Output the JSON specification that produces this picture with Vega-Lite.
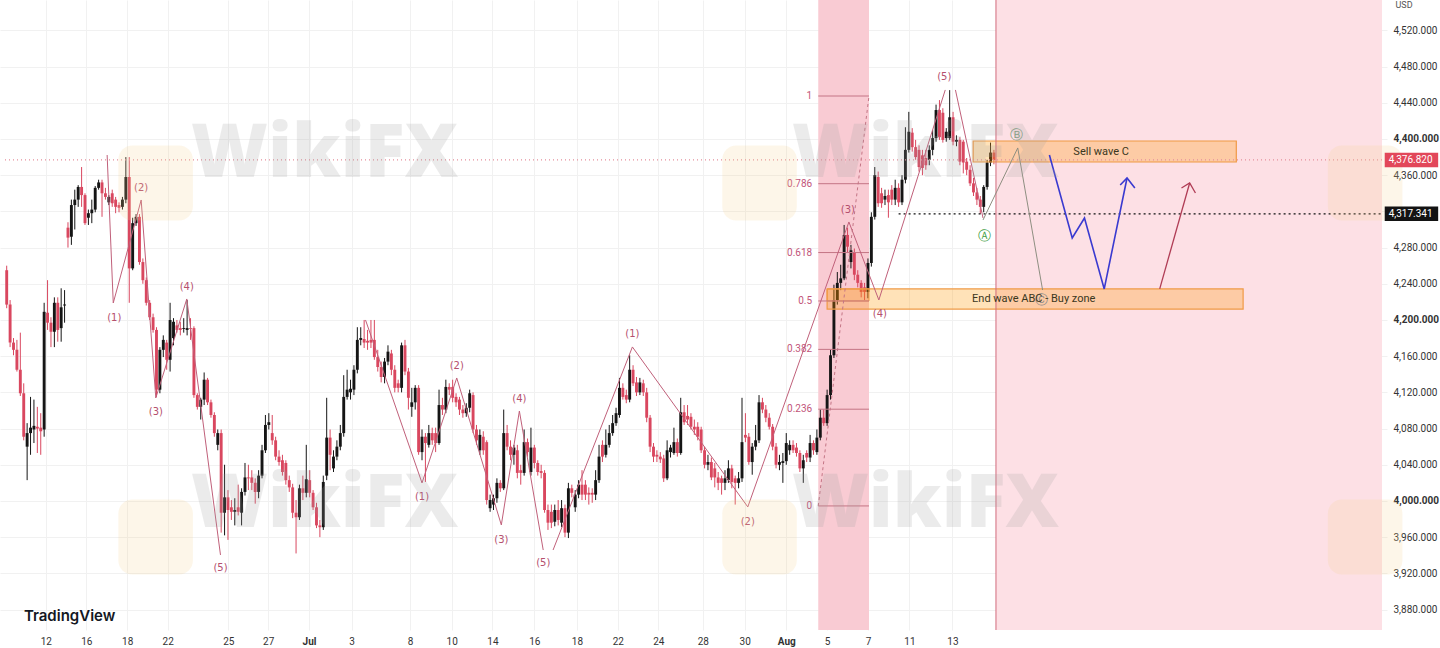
{
"$schema":"https://vega.github.io/schema/vega-lite/v6.json",
"width":1387,"height":630,"autosize":"none",
"padding":{"left":0,"top":0,"right":53,"bottom":18},
"background":"#ffffff",
"config":{"view":{"stroke":null},"font":"Roboto"},
"resolve":{"axis":{"x":"independent","y":"independent"}},
"datasets":{
"candles":[
{"i":0,"o":4255,"h":4260,"l":4213,"c":4217},{"i":1,"o":4217,"h":4222,"l":4170,"c":4175},{"i":2,"o":4175,"h":4180,"l":4161,"c":4167},{"i":3,"o":4167,"h":4178,"l":4143,"c":4145},{"i":4,"o":4145,"h":4186,"l":4116,"c":4119},{"i":5,"o":4119,"h":4130,"l":4067,"c":4071},{"i":6,"o":4060,"h":4086,"l":4023,"c":4075},{"i":7,"o":4075,"h":4115,"l":4051,"c":4081},{"i":8,"o":4079,"h":4112,"l":4064,"c":4083},{"i":9,"o":4082,"h":4104,"l":4053,"c":4080},
{"i":10,"o":4081,"h":4097,"l":4051,"c":4077},{"i":11,"o":4079,"h":4219,"l":4071,"c":4209},{"i":12,"o":4208,"h":4244,"l":4189,"c":4197},{"i":13,"o":4197,"h":4203,"l":4170,"c":4187},{"i":14,"o":4187,"h":4225,"l":4170,"c":4219},{"i":15,"o":4219,"h":4225,"l":4176,"c":4189},{"i":16,"o":4191,"h":4235,"l":4176,"c":4214},{"i":17,"o":4216,"h":4233,"l":4197,"c":4217},{"i":18,"o":4302,"h":4308,"l":4280,"c":4291},{"i":19,"o":4292,"h":4333,"l":4283,"c":4327},
{"i":20,"o":4327,"h":4344,"l":4300,"c":4333},{"i":21,"o":4333,"h":4349,"l":4325,"c":4347},{"i":22,"o":4347,"h":4369,"l":4325,"c":4338},{"i":23,"o":4338,"h":4340,"l":4305,"c":4307},{"i":24,"o":4313,"h":4322,"l":4305,"c":4318},{"i":25,"o":4318,"h":4333,"l":4307,"c":4322},{"i":26,"o":4322,"h":4348,"l":4319,"c":4346},{"i":27,"o":4346,"h":4355,"l":4344,"c":4352},{"i":28,"o":4352,"h":4355,"l":4314,"c":4340},{"i":29,"o":4340,"h":4346,"l":4333,"c":4336},
{"i":30,"o":4330,"h":4338,"l":4327,"c":4336},{"i":31,"o":4340,"h":4344,"l":4325,"c":4329},{"i":32,"o":4333,"h":4336,"l":4318,"c":4325},{"i":33,"o":4327,"h":4330,"l":4319,"c":4324},{"i":34,"o":4325,"h":4336,"l":4322,"c":4333},{"i":35,"o":4333,"h":4380,"l":4329,"c":4358},{"i":36,"o":4358,"h":4380,"l":4219,"c":4257},{"i":37,"o":4257,"h":4313,"l":4255,"c":4307},{"i":38,"o":4307,"h":4317,"l":4304,"c":4314},{"i":39,"o":4314,"h":4317,"l":4261,"c":4264},
{"i":40,"o":4264,"h":4268,"l":4240,"c":4244},{"i":41,"o":4244,"h":4247,"l":4216,"c":4219},{"i":42,"o":4219,"h":4222,"l":4200,"c":4203},{"i":43,"o":4203,"h":4207,"l":4186,"c":4189},{"i":44,"o":4189,"h":4192,"l":4115,"c":4123},{"i":45,"o":4123,"h":4170,"l":4119,"c":4167},{"i":46,"o":4167,"h":4183,"l":4159,"c":4178},{"i":47,"o":4175,"h":4178,"l":4145,"c":4156},{"i":48,"o":4156,"h":4219,"l":4143,"c":4200},{"i":49,"o":4180,"h":4202,"l":4172,"c":4198},
{"i":50,"o":4194,"h":4200,"l":4186,"c":4189},{"i":51,"o":4191,"h":4198,"l":4183,"c":4189},{"i":52,"o":4190,"h":4202,"l":4186,"c":4191},{"i":53,"o":4189,"h":4222,"l":4183,"c":4191},{"i":54,"o":4191,"h":4202,"l":4178,"c":4190},{"i":55,"o":4191,"h":4193,"l":4114,"c":4117},{"i":56,"o":4117,"h":4119,"l":4101,"c":4104},{"i":57,"o":4104,"h":4114,"l":4090,"c":4112},{"i":58,"o":4112,"h":4142,"l":4106,"c":4134},{"i":59,"o":4134,"h":4136,"l":4106,"c":4109},
{"i":60,"o":4109,"h":4112,"l":4092,"c":4095},{"i":61,"o":4095,"h":4098,"l":4071,"c":4075},{"i":62,"o":4062,"h":4079,"l":4056,"c":4075},{"i":63,"o":4075,"h":4079,"l":3965,"c":3987},{"i":64,"o":3987,"h":4040,"l":3962,"c":4004},{"i":65,"o":4004,"h":4012,"l":3957,"c":3990},{"i":66,"o":3993,"h":4001,"l":3979,"c":3988},{"i":67,"o":3988,"h":4003,"l":3973,"c":3990},{"i":68,"o":3993,"h":4018,"l":3984,"c":3988},{"i":69,"o":3987,"h":4014,"l":3973,"c":4010},
{"i":70,"o":4010,"h":4042,"l":4006,"c":4026},{"i":71,"o":4026,"h":4040,"l":4012,"c":4025},{"i":72,"o":4026,"h":4034,"l":4012,"c":4020},{"i":73,"o":4020,"h":4025,"l":3997,"c":4010},{"i":74,"o":4010,"h":4034,"l":4003,"c":4028},{"i":75,"o":4028,"h":4062,"l":4025,"c":4056},{"i":76,"o":4056,"h":4095,"l":4053,"c":4084},{"i":77,"o":4084,"h":4097,"l":4079,"c":4087},{"i":78,"o":4075,"h":4095,"l":4062,"c":4067},{"i":79,"o":4067,"h":4071,"l":4045,"c":4049},
{"i":80,"o":4049,"h":4056,"l":4039,"c":4043},{"i":81,"o":4045,"h":4051,"l":4028,"c":4032},{"i":82,"o":4042,"h":4045,"l":4018,"c":4023},{"i":83,"o":4023,"h":4028,"l":4010,"c":4015},{"i":84,"o":4015,"h":4019,"l":3981,"c":3987},{"i":85,"o":3987,"h":4001,"l":3942,"c":3982},{"i":86,"o":3982,"h":4018,"l":3979,"c":4014},{"i":87,"o":4014,"h":4028,"l":4001,"c":4009},{"i":88,"o":4009,"h":4062,"l":4004,"c":4024},{"i":89,"o":4023,"h":4034,"l":4004,"c":4009},
{"i":90,"o":4009,"h":4012,"l":3990,"c":3993},{"i":91,"o":3993,"h":3998,"l":3970,"c":3973},{"i":92,"o":3973,"h":3979,"l":3960,"c":3971},{"i":93,"o":3971,"h":4028,"l":3968,"c":4021},{"i":94,"o":4028,"h":4114,"l":4023,"c":4070},{"i":95,"o":4070,"h":4079,"l":4034,"c":4051},{"i":96,"o":4036,"h":4056,"l":4032,"c":4049},{"i":97,"o":4049,"h":4067,"l":4045,"c":4060},{"i":98,"o":4060,"h":4084,"l":4056,"c":4075},{"i":99,"o":4075,"h":4139,"l":4071,"c":4115},
{"i":100,"o":4115,"h":4145,"l":4112,"c":4123},{"i":101,"o":4120,"h":4134,"l":4112,"c":4124},{"i":102,"o":4123,"h":4150,"l":4117,"c":4145},{"i":103,"o":4145,"h":4192,"l":4141,"c":4178},{"i":104,"o":4178,"h":4192,"l":4172,"c":4180},{"i":105,"o":4179,"h":4200,"l":4169,"c":4175},{"i":106,"o":4177,"h":4189,"l":4167,"c":4175},{"i":107,"o":4178,"h":4200,"l":4169,"c":4175},{"i":108,"o":4178,"h":4200,"l":4156,"c":4159},{"i":109,"o":4159,"h":4167,"l":4143,"c":4148},
{"i":110,"o":4148,"h":4154,"l":4131,"c":4137},{"i":111,"o":4137,"h":4158,"l":4130,"c":4154},{"i":112,"o":4154,"h":4172,"l":4150,"c":4165},{"i":113,"o":4163,"h":4167,"l":4139,"c":4145},{"i":114,"o":4145,"h":4150,"l":4120,"c":4125},{"i":115,"o":4130,"h":4134,"l":4120,"c":4125},{"i":116,"o":4125,"h":4175,"l":4120,"c":4172},{"i":117,"o":4172,"h":4178,"l":4139,"c":4143},{"i":118,"o":4143,"h":4147,"l":4101,"c":4114},{"i":119,"o":4104,"h":4125,"l":4093,"c":4109},
{"i":120,"o":4109,"h":4128,"l":4101,"c":4125},{"i":121,"o":4125,"h":4128,"l":4051,"c":4054},{"i":122,"o":4054,"h":4079,"l":4045,"c":4071},{"i":123,"o":4071,"h":4075,"l":4021,"c":4064},{"i":124,"o":4062,"h":4084,"l":4059,"c":4075},{"i":125,"o":4075,"h":4081,"l":4062,"c":4067},{"i":126,"o":4075,"h":4081,"l":4054,"c":4064},{"i":127,"o":4064,"h":4123,"l":4062,"c":4106},{"i":128,"o":4106,"h":4114,"l":4095,"c":4101},{"i":129,"o":4101,"h":4134,"l":4097,"c":4126},
{"i":130,"o":4126,"h":4130,"l":4117,"c":4123},{"i":131,"o":4126,"h":4134,"l":4109,"c":4114},{"i":132,"o":4115,"h":4119,"l":4104,"c":4109},{"i":133,"o":4112,"h":4115,"l":4095,"c":4101},{"i":134,"o":4101,"h":4106,"l":4092,"c":4097},{"i":135,"o":4097,"h":4108,"l":4093,"c":4103},{"i":136,"o":4103,"h":4123,"l":4098,"c":4119},{"i":137,"o":4117,"h":4120,"l":4075,"c":4079},{"i":138,"o":4079,"h":4084,"l":4062,"c":4067},{"i":139,"o":4056,"h":4079,"l":4051,"c":4073},
{"i":140,"o":4071,"h":4077,"l":4051,"c":4056},{"i":141,"o":4065,"h":4067,"l":3996,"c":4001},{"i":142,"o":3992,"h":4007,"l":3988,"c":4001},{"i":143,"o":3996,"h":4007,"l":3990,"c":4003},{"i":144,"o":4003,"h":4025,"l":3998,"c":4020},{"i":145,"o":4020,"h":4023,"l":4010,"c":4014},{"i":146,"o":4014,"h":4101,"l":4012,"c":4075},{"i":147,"o":4075,"h":4084,"l":4056,"c":4060},{"i":148,"o":4060,"h":4067,"l":4045,"c":4051},{"i":149,"o":4051,"h":4062,"l":4040,"c":4059},
{"i":150,"o":4056,"h":4062,"l":4025,"c":4031},{"i":151,"o":4034,"h":4040,"l":4018,"c":4031},{"i":152,"o":4031,"h":4079,"l":4028,"c":4065},{"i":153,"o":4065,"h":4069,"l":4049,"c":4054},{"i":154,"o":4032,"h":4081,"l":4028,"c":4059},{"i":155,"o":4059,"h":4062,"l":4036,"c":4042},{"i":156,"o":4042,"h":4045,"l":4028,"c":4032},{"i":157,"o":4033,"h":4040,"l":4025,"c":4031},{"i":158,"o":4031,"h":4034,"l":3987,"c":3990},{"i":159,"o":3990,"h":3996,"l":3968,"c":3976},
{"i":160,"o":3988,"h":3996,"l":3970,"c":3976},{"i":161,"o":3977,"h":3996,"l":3972,"c":3990},{"i":162,"o":3990,"h":4001,"l":3973,"c":3979},{"i":163,"o":3976,"h":4001,"l":3971,"c":3992},{"i":164,"o":3992,"h":3996,"l":3960,"c":3965},{"i":165,"o":3965,"h":4020,"l":3959,"c":4014},{"i":166,"o":4014,"h":4018,"l":4004,"c":4009},{"i":167,"o":3993,"h":4012,"l":3988,"c":4007},{"i":168,"o":4007,"h":4023,"l":4003,"c":4018},{"i":169,"o":4018,"h":4034,"l":4001,"c":4007},
{"i":170,"o":4018,"h":4023,"l":4001,"c":4007},{"i":171,"o":4009,"h":4015,"l":3996,"c":4007},{"i":172,"o":4009,"h":4014,"l":3998,"c":4007},{"i":173,"o":4007,"h":4034,"l":4001,"c":4023},{"i":174,"o":4023,"h":4062,"l":4020,"c":4049},{"i":175,"o":4062,"h":4067,"l":4043,"c":4049},{"i":176,"o":4051,"h":4079,"l":4048,"c":4062},{"i":177,"o":4062,"h":4084,"l":4059,"c":4075},{"i":178,"o":4075,"h":4095,"l":4072,"c":4086},{"i":179,"o":4086,"h":4103,"l":4083,"c":4097},
{"i":180,"o":4095,"h":4136,"l":4092,"c":4125},{"i":181,"o":4125,"h":4130,"l":4112,"c":4115},{"i":182,"o":4117,"h":4123,"l":4108,"c":4112},{"i":183,"o":4112,"h":4161,"l":4109,"c":4145},{"i":184,"o":4145,"h":4150,"l":4127,"c":4130},{"i":185,"o":4131,"h":4137,"l":4116,"c":4120},{"i":186,"o":4120,"h":4136,"l":4117,"c":4131},{"i":187,"o":4130,"h":4134,"l":4116,"c":4120},{"i":188,"o":4120,"h":4125,"l":4087,"c":4092},{"i":189,"o":4092,"h":4095,"l":4054,"c":4060},
{"i":190,"o":4060,"h":4064,"l":4043,"c":4049},{"i":191,"o":4051,"h":4056,"l":4043,"c":4049},{"i":192,"o":4049,"h":4054,"l":4042,"c":4046},{"i":193,"o":4047,"h":4051,"l":4021,"c":4025},{"i":194,"o":4025,"h":4067,"l":4023,"c":4056},{"i":195,"o":4054,"h":4062,"l":4048,"c":4059},{"i":196,"o":4053,"h":4081,"l":4051,"c":4065},{"i":197,"o":4065,"h":4069,"l":4049,"c":4053},{"i":198,"o":4053,"h":4114,"l":4051,"c":4098},{"i":199,"o":4098,"h":4106,"l":4084,"c":4087},
{"i":200,"o":4094,"h":4106,"l":4084,"c":4090},{"i":201,"o":4093,"h":4097,"l":4079,"c":4082},{"i":202,"o":4082,"h":4090,"l":4073,"c":4079},{"i":203,"o":4082,"h":4087,"l":4067,"c":4071},{"i":204,"o":4079,"h":4082,"l":4053,"c":4056},{"i":205,"o":4056,"h":4060,"l":4036,"c":4040},{"i":206,"o":4040,"h":4051,"l":4034,"c":4043},{"i":207,"o":4043,"h":4048,"l":4023,"c":4026},{"i":208,"o":4036,"h":4042,"l":4015,"c":4026},{"i":209,"o":4026,"h":4032,"l":4012,"c":4020},
{"i":210,"o":4025,"h":4028,"l":4007,"c":4020},{"i":211,"o":4020,"h":4034,"l":4012,"c":4025},{"i":212,"o":4023,"h":4045,"l":4020,"c":4036},{"i":213,"o":4036,"h":4040,"l":4014,"c":4021},{"i":214,"o":4025,"h":4028,"l":3996,"c":4020},{"i":215,"o":4020,"h":4032,"l":4014,"c":4025},{"i":216,"o":4025,"h":4114,"l":4021,"c":4065},{"i":217,"o":4073,"h":4097,"l":4065,"c":4070},{"i":218,"o":4071,"h":4075,"l":4040,"c":4043},{"i":219,"o":4043,"h":4064,"l":4029,"c":4060},
{"i":220,"o":4060,"h":4084,"l":4056,"c":4067},{"i":221,"o":4067,"h":4117,"l":4064,"c":4109},{"i":222,"o":4109,"h":4114,"l":4097,"c":4101},{"i":223,"o":4101,"h":4106,"l":4087,"c":4092},{"i":224,"o":4092,"h":4097,"l":4079,"c":4082},{"i":225,"o":4082,"h":4085,"l":4056,"c":4060},{"i":226,"o":4060,"h":4064,"l":4036,"c":4040},{"i":227,"o":4040,"h":4051,"l":4034,"c":4043},{"i":228,"o":4042,"h":4053,"l":4020,"c":4044},{"i":229,"o":4044,"h":4075,"l":4040,"c":4064},
{"i":230,"o":4056,"h":4067,"l":4051,"c":4062},{"i":231,"o":4062,"h":4067,"l":4053,"c":4056},{"i":232,"o":4059,"h":4064,"l":4049,"c":4053},{"i":233,"o":4053,"h":4056,"l":4032,"c":4036},{"i":234,"o":4036,"h":4051,"l":4020,"c":4045},{"i":235,"o":4053,"h":4056,"l":4043,"c":4048},{"i":236,"o":4048,"h":4073,"l":4043,"c":4064},{"i":237,"o":4064,"h":4067,"l":4051,"c":4056},{"i":238,"o":4054,"h":4079,"l":4051,"c":4070},{"i":239,"o":4070,"h":4101,"l":4067,"c":4092},
{"i":240,"o":4092,"h":4101,"l":4083,"c":4086},{"i":241,"o":4086,"h":4123,"l":4083,"c":4117},{"i":242,"o":4117,"h":4167,"l":4112,"c":4161},{"i":243,"o":4161,"h":4239,"l":4158,"c":4222},{"i":244,"o":4222,"h":4253,"l":4217,"c":4241},{"i":245,"o":4241,"h":4261,"l":4233,"c":4246},{"i":246,"o":4246,"h":4305,"l":4244,"c":4294},{"i":247,"o":4294,"h":4302,"l":4275,"c":4281},{"i":248,"o":4264,"h":4283,"l":4257,"c":4277},{"i":249,"o":4275,"h":4279,"l":4244,"c":4250},
{"i":250,"o":4250,"h":4255,"l":4236,"c":4241},{"i":251,"o":4241,"h":4244,"l":4225,"c":4231},{"i":252,"o":4236,"h":4241,"l":4222,"c":4231},{"i":253,"o":4231,"h":4268,"l":4224,"c":4263},{"i":254,"o":4263,"h":4319,"l":4259,"c":4314},{"i":255,"o":4314,"h":4369,"l":4311,"c":4360},{"i":256,"o":4358,"h":4364,"l":4325,"c":4329},{"i":257,"o":4340,"h":4346,"l":4324,"c":4329},{"i":258,"o":4333,"h":4344,"l":4327,"c":4337},{"i":259,"o":4338,"h":4344,"l":4313,"c":4330},
{"i":260,"o":4344,"h":4349,"l":4327,"c":4333},{"i":261,"o":4333,"h":4355,"l":4327,"c":4346},{"i":262,"o":4346,"h":4351,"l":4325,"c":4330},{"i":263,"o":4330,"h":4360,"l":4327,"c":4355},{"i":264,"o":4355,"h":4413,"l":4351,"c":4388},{"i":265,"o":4388,"h":4430,"l":4385,"c":4408},{"i":266,"o":4407,"h":4412,"l":4386,"c":4391},{"i":267,"o":4391,"h":4399,"l":4377,"c":4380},{"i":268,"o":4388,"h":4393,"l":4364,"c":4369},{"i":269,"o":4382,"h":4388,"l":4360,"c":4368},
{"i":270,"o":4379,"h":4388,"l":4366,"c":4371},{"i":271,"o":4377,"h":4393,"l":4371,"c":4388},{"i":272,"o":4388,"h":4410,"l":4382,"c":4401},{"i":273,"o":4401,"h":4438,"l":4397,"c":4432},{"i":274,"o":4432,"h":4443,"l":4399,"c":4402},{"i":275,"o":4429,"h":4434,"l":4396,"c":4399},{"i":276,"o":4401,"h":4412,"l":4397,"c":4408},{"i":277,"o":4401,"h":4454,"l":4399,"c":4424},{"i":278,"o":4424,"h":4430,"l":4393,"c":4397},{"i":279,"o":4397,"h":4404,"l":4392,"c":4399},
{"i":280,"o":4399,"h":4402,"l":4371,"c":4375},{"i":281,"o":4397,"h":4399,"l":4362,"c":4374},{"i":282,"o":4375,"h":4379,"l":4360,"c":4366},{"i":283,"o":4366,"h":4371,"l":4348,"c":4351},{"i":284,"o":4351,"h":4357,"l":4337,"c":4341},{"i":285,"o":4341,"h":4346,"l":4327,"c":4333},{"i":286,"o":4333,"h":4337,"l":4317.34,"c":4325},{"i":287,"o":4325,"h":4349,"l":4319,"c":4347},{"i":288,"o":4347,"h":4377,"l":4344,"c":4374},{"i":289,"o":4374,"h":4396,"l":4370,"c":4385},
{"i":290,"o":4385,"h":4388,"l":4372,"c":4376.82}
],
"waves":[
{"g":1,"s":"m","k":0,"i":29.5,"p":4382.3},{"g":1,"s":"m","k":1,"i":31.3,"p":4218.8},{"g":1,"s":"m","k":2,"i":39.5,"p":4332.6},{"g":1,"s":"m","k":3,"i":43.8,"p":4113.8},{"g":1,"s":"m","k":4,"i":52.9,"p":4223.2},{"g":1,"s":"m","k":5,"i":62.8,"p":3940.3},
{"g":2,"s":"m","k":0,"i":105.4,"p":4200},{"g":2,"s":"m","k":1,"i":122,"p":4019.9},{"g":2,"s":"m","k":2,"i":132.2,"p":4135.9},{"g":2,"s":"m","k":3,"i":145.3,"p":3973.5},{"g":2,"s":"m","k":4,"i":150.6,"p":4099.4},{"g":2,"s":"m","k":5,"i":157.6,"p":3945.8},
{"g":3,"s":"m","k":0,"i":160.5,"p":3945.8},{"g":3,"s":"m","k":1,"i":183.8,"p":4170.2},{"g":3,"s":"m","k":2,"i":217.7,"p":3993.4},{"g":3,"s":"m","k":3,"i":247.4,"p":4308.3},{"g":3,"s":"m","k":4,"i":256.2,"p":4222.1},{"g":3,"s":"m","k":5,"i":275.7,"p":4454.2},
{"g":4,"s":"m","k":0,"i":278.7,"p":4454.2},{"g":4,"s":"m","k":1,"i":286.8,"p":4312.7},
{"g":5,"s":"a","k":0,"i":286.8,"p":4310.5},{"g":5,"s":"a","k":1,"i":297,"p":4390.1},{"g":5,"s":"a","k":2,"i":304.3,"p":4233.1},
{"g":6,"s":"b","k":0,"i":306.3,"p":4382.3},{"g":6,"s":"b","k":1,"i":313,"p":4290.6},{"g":6,"s":"b","k":2,"i":316.6,"p":4312.7},{"g":6,"s":"b","k":3,"i":322.4,"p":4234.3},{"g":6,"s":"b","k":4,"i":329.1,"p":4356.9},
{"g":7,"s":"b","k":0,"i":327.1,"p":4349.2},{"g":7,"s":"b","k":1,"i":329.1,"p":4356.9},{"g":7,"s":"b","k":2,"i":331.4,"p":4345.9},
{"g":8,"s":"r","k":0,"i":338.7,"p":4234.3},{"g":8,"s":"r","k":1,"i":347.5,"p":4351.4},
{"g":9,"s":"r","k":0,"i":345.1,"p":4345.9},{"g":9,"s":"r","k":1,"i":347.5,"p":4351.4},{"g":9,"s":"r","k":2,"i":349.2,"p":4340.3},
{"g":10,"s":"d","k":0,"i":238.4,"p":3994.5},{"g":10,"s":"d","k":1,"i":253.3,"p":4447.5}
],
"notes":[
{"i":31.6,"p":4202,"t":"(1)","s":"w"},{"i":39.5,"p":4345.9,"t":"(2)","s":"w"},{"i":43.8,"p":4098.3,"t":"(3)","s":"w"},{"i":52.9,"p":4236.5,"t":"(4)","s":"w"},{"i":62.8,"p":3926,"t":"(5)","s":"w"},
{"i":122,"p":4004.4,"t":"(1)","s":"w"},{"i":132.2,"p":4149.2,"t":"(2)","s":"w"},{"i":145.3,"p":3956.9,"t":"(3)","s":"w"},{"i":150.6,"p":4112.7,"t":"(4)","s":"w"},{"i":157.6,"p":3931.5,"t":"(5)","s":"w"},
{"i":183.8,"p":4184.5,"t":"(1)","s":"w"},{"i":217.7,"p":3976.8,"t":"(2)","s":"w"},{"i":247.1,"p":4321.6,"t":"(3)","s":"w"},{"i":256.5,"p":4206.6,"t":"(4)","s":"w"},{"i":275.4,"p":4468.5,"t":"(5)","s":"w"},
{"i":287.1,"p":4292.8,"t":"Ⓐ","s":"A"},{"i":296.7,"p":4404.4,"t":"Ⓑ","s":"B"},{"i":304,"p":4222.1,"t":"Ⓒ","s":"C"}
],
"fib":[
{"lv":"1","p":4447.5},{"lv":"0.786","p":4350.6},{"lv":"0.618","p":4274.5},{"lv":"0.5","p":4221},{"lv":"0.382","p":4167.5},{"lv":"0.236","p":4101.4},{"lv":"0","p":3994.5}
],
"boxes":[
{"i1":283.9,"i2":361.2,"p1":4374.6,"p2":4397.8,"t":"Sell wave C","ti":321.5,"tp":4385.6},
{"i1":241,"i2":363.2,"p1":4212.1,"p2":4234.3,"t":"End wave ABC - Buy zone","ti":301.7,"tp":4223.2}
],
"zones":[{"i1":238.4,"i2":253.3,"k":"n"},{"i1":290.6,"i2":404,"k":"r"}],
"dots":[{"i1":-0.5,"i2":404,"p":4376.82,"s":"r"},{"i1":262,"i2":404,"p":4317.341,"s":"k"}],
"tags":[{"i1":404.8,"i2":420.5,"p1":4368.9,"p2":4384.7,"ti":412.4,"p":4376.82,"t":"4,376.820","s":"r"},{"i1":404.8,"i2":420.5,"p1":4309.4,"p2":4325.3,"ti":412.4,"p":4317.341,"t":"4,317.341","s":"k"}],
"logos":[
{"i1":32.8,"i2":54.7,"p1":4310,"p2":4392.8},{"i1":210.2,"i2":232.1,"p1":4310,"p2":4392.8},{"i1":388.1,"i2":410,"p1":4310,"p2":4392.8},
{"i1":32.8,"i2":54.7,"p1":3918.8,"p2":4001.6},{"i1":210.2,"i2":232.1,"p1":3918.8,"p2":4001.6},{"i1":388.1,"i2":410,"p1":3918.8,"p2":4001.6}
],
"marks":[{"i":93.4,"p":4382.3},{"i":269.9,"p":4382.3},{"i":93.4,"p":3995.6},{"i":269.9,"p":3995.6}]
},
"layer":[
{"data":{"name":"zones"},"mark":{"type":"rect"},
 "encoding":{"x":{"field":"i1","type":"quantitative","scale":{"domain":[-0.5,404],"nice":false,"zero":false},
  "axis":{"orient":"bottom","values":[11.5,23.4,35.4,47.3,65.1,76.8,88.8,101.3,118.5,130.7,142.7,155,167.5,179.5,191.4,204.5,216.8,229,241,253,265.2,277.8],
  "labelExpr":"['12','16','18','22','25','27','Jul','3','8','10','14','16','18','22','24','28','30','Aug','5','7','11','13'][indexof([11.5,23.4,35.4,47.3,65.1,76.8,88.8,101.3,118.5,130.7,142.7,155,167.5,179.5,191.4,204.5,216.8,229,241,253,265.2,277.8], datum.value)]",
  "grid":true,"gridColor":"#f1f1f1","domain":false,"ticks":false,"labelPadding":6,"labelFontSize":10,"labelColor":"#333333","labelFont":"Roboto",
  "labelFontWeight":{"condition":{"test":"datum.value == 88.8 || datum.value == 229","value":"bold"},"value":"normal"},
  "title":null,"labelOverlap":false,"labelFlush":false}},
 "x2":{"field":"i2"},
 "color":{"condition":{"test":"datum.k=='n'","value":"#f9cbd3"},"value":"#fde0e5"}}},
{"data":{"name":"candles"},"mark":{"type":"rule","strokeWidth":1},
 "encoding":{
 "x":{"field":"i","type":"quantitative","scale":{"domain":[-0.5,404],"nice":false,"zero":false},"axis":null},
 "y":{"field":"l","type":"quantitative","scale":{"domain":[3857.4,4553.6],"nice":false,"zero":false},
  "axis":{"orient":"right","values":[3880,3920,3960,4000,4040,4080,4120,4160,4200,4240,4280,4320,4360,4400,4440,4480,4520],"format":",.3f",
  "grid":true,"gridColor":"#f1f1f1","domain":false,"ticks":false,"labelPadding":6,"labelFontSize":10,"labelColor":"#333333","labelFont":"Roboto",
  "labelFontWeight":{"condition":{"test":"datum.value % 200 == 0","value":"bold"},"value":"normal"},
  "title":"USD","titleAngle":0,"titleAlign":"left","titleBaseline":"top","titleX":8,"titleY":0,"titleFontSize":9,"titleFontWeight":"normal","titleColor":"#555555","titleFont":"Roboto","labelOverlap":false}},
 "y2":{"field":"h"},
 "color":{"condition":{"test":"datum.c >= datum.o","value":"#151515"},"value":"#d9475f"}}},
{"data":{"name":"candles"},"mark":{"type":"bar","width":2.9},
 "encoding":{"x":{"field":"i","type":"quantitative","scale":{"domain":[-0.5,404],"nice":false,"zero":false},"axis":null},
 "y":{"field":"o","type":"quantitative","scale":{"domain":[3857.4,4553.6],"nice":false,"zero":false},"axis":null},"y2":{"field":"c"},
 "color":{"condition":{"test":"datum.c >= datum.o","value":"#151515"},"value":"#d9475f"}}},
{"data":{"name":"boxes"},"mark":{"type":"rect","fill":"#ff9800","fillOpacity":0.28,"stroke":"#f09a45","strokeWidth":1.2},
 "encoding":{"x":{"field":"i1","type":"quantitative","scale":{"domain":[-0.5,404],"nice":false,"zero":false},"axis":null},"x2":{"field":"i2"},
 "y":{"field":"p1","type":"quantitative","scale":{"domain":[3857.4,4553.6],"nice":false,"zero":false},"axis":null},"y2":{"field":"p2"}}},
{"data":{"values":[{"i1":241,"i2":253.3,"p1":4221,"p2":4234.3}]},"mark":{"type":"rect","fill":"#ff9800","fillOpacity":0.12,"stroke":"#f09a45","strokeWidth":1},
 "encoding":{"x":{"field":"i1","type":"quantitative","scale":{"domain":[-0.5,404],"nice":false,"zero":false},"axis":null},"x2":{"field":"i2"},
 "y":{"field":"p1","type":"quantitative","scale":{"domain":[3857.4,4553.6],"nice":false,"zero":false},"axis":null},"y2":{"field":"p2"}}},
{"data":{"name":"fib"},"mark":{"type":"rule","color":"#c47585","strokeWidth":1},
 "encoding":{"x":{"datum":238.4,"type":"quantitative","scale":{"domain":[-0.5,404],"nice":false,"zero":false},"axis":null},"x2":{"datum":253.3},
 "y":{"field":"p","type":"quantitative","scale":{"domain":[3857.4,4553.6],"nice":false,"zero":false},"axis":null}}},
{"data":{"name":"fib"},"mark":{"type":"text","align":"right","baseline":"middle","fontSize":10,"color":"#c2557a","font":"Roboto"},
 "encoding":{"x":{"datum":236.6,"type":"quantitative","scale":{"domain":[-0.5,404],"nice":false,"zero":false},"axis":null},
 "y":{"field":"p","type":"quantitative","scale":{"domain":[3857.4,4553.6],"nice":false,"zero":false},"axis":null},"text":{"field":"lv"}}},
{"data":{"name":"dots"},"mark":{"type":"rule","strokeWidth":1.2},
 "encoding":{"x":{"field":"i1","type":"quantitative","scale":{"domain":[-0.5,404],"nice":false,"zero":false},"axis":null},"x2":{"field":"i2"},
 "y":{"field":"p","type":"quantitative","scale":{"domain":[3857.4,4553.6],"nice":false,"zero":false},"axis":null},
 "color":{"condition":{"test":"datum.s=='r'","value":"#e58f9c"},"value":"#111111"},
 "strokeDash":{"condition":{"test":"datum.s=='r'","value":[1,3]},"value":[2,3]}}},
{"data":{"values":[{"i":290.6}]},"mark":{"type":"rule","color":"#d26b7c","strokeWidth":1},
 "encoding":{"x":{"field":"i","type":"quantitative","scale":{"domain":[-0.5,404],"nice":false,"zero":false},"axis":null}}},
{"data":{"name":"waves"},"transform":[{"filter":"datum.s=='m'"}],"mark":{"type":"line","color":"#c0607a","strokeWidth":1},
 "encoding":{"x":{"field":"i","type":"quantitative","scale":{"domain":[-0.5,404],"nice":false,"zero":false},"axis":null},
 "y":{"field":"p","type":"quantitative","scale":{"domain":[3857.4,4553.6],"nice":false,"zero":false},"axis":null},"detail":{"field":"g"},"order":{"field":"k"}}},
{"data":{"name":"waves"},"transform":[{"filter":"datum.s=='d'"}],"mark":{"type":"line","color":"#c47585","strokeWidth":1,"strokeDash":[3,3]},
 "encoding":{"x":{"field":"i","type":"quantitative","scale":{"domain":[-0.5,404],"nice":false,"zero":false},"axis":null},
 "y":{"field":"p","type":"quantitative","scale":{"domain":[3857.4,4553.6],"nice":false,"zero":false},"axis":null},"order":{"field":"k"}}},
{"data":{"name":"waves"},"transform":[{"filter":"datum.s=='a'"}],"mark":{"type":"line","color":"#8e8e80","strokeWidth":1},
 "encoding":{"x":{"field":"i","type":"quantitative","scale":{"domain":[-0.5,404],"nice":false,"zero":false},"axis":null},
 "y":{"field":"p","type":"quantitative","scale":{"domain":[3857.4,4553.6],"nice":false,"zero":false},"axis":null},"order":{"field":"k"}}},
{"data":{"name":"waves"},"transform":[{"filter":"datum.s=='b'"}],"mark":{"type":"line","color":"#3a3ad0","strokeWidth":1.6},
 "encoding":{"x":{"field":"i","type":"quantitative","scale":{"domain":[-0.5,404],"nice":false,"zero":false},"axis":null},
 "y":{"field":"p","type":"quantitative","scale":{"domain":[3857.4,4553.6],"nice":false,"zero":false},"axis":null},"detail":{"field":"g"},"order":{"field":"k"}}},
{"data":{"name":"waves"},"transform":[{"filter":"datum.s=='r'"}],"mark":{"type":"line","color":"#b03c55","strokeWidth":1.3},
 "encoding":{"x":{"field":"i","type":"quantitative","scale":{"domain":[-0.5,404],"nice":false,"zero":false},"axis":null},
 "y":{"field":"p","type":"quantitative","scale":{"domain":[3857.4,4553.6],"nice":false,"zero":false},"axis":null},"detail":{"field":"g"},"order":{"field":"k"}}},
{"data":{"name":"notes"},"mark":{"type":"text","align":"center","baseline":"middle","font":"DejaVu Sans"},
 "encoding":{"x":{"field":"i","type":"quantitative","scale":{"domain":[-0.5,404],"nice":false,"zero":false},"axis":null},
 "y":{"field":"p","type":"quantitative","scale":{"domain":[3857.4,4553.6],"nice":false,"zero":false},"axis":null},"text":{"field":"t"},
 "size":{"condition":{"test":"datum.s=='w'","value":10},"value":13},
 "color":{"condition":[{"test":"datum.s=='w'","value":"#b5506e"},{"test":"datum.s=='A'","value":"#43a047"},{"test":"datum.s=='B'","value":"#7f9f80"}],"value":"#8a8a8a"}}},
{"data":{"name":"boxes"},"mark":{"type":"text","align":"center","baseline":"middle","fontSize":11,"color":"#3a3720","font":"Roboto"},
 "encoding":{"x":{"field":"ti","type":"quantitative","scale":{"domain":[-0.5,404],"nice":false,"zero":false},"axis":null},
 "y":{"field":"tp","type":"quantitative","scale":{"domain":[3857.4,4553.6],"nice":false,"zero":false},"axis":null},"text":{"field":"t"}}},
{"data":{"name":"logos"},"mark":{"type":"rect","fill":"#f5d48f","opacity":0.2,"cornerRadius":14},
 "encoding":{"x":{"field":"i1","type":"quantitative","scale":{"domain":[-0.5,404],"nice":false,"zero":false},"axis":null},"x2":{"field":"i2"},
 "y":{"field":"p1","type":"quantitative","scale":{"domain":[3857.4,4553.6],"nice":false,"zero":false},"axis":null},"y2":{"field":"p2"}}},
{"data":{"name":"marks"},"mark":{"type":"text","align":"center","baseline":"middle","fontSize":74,"fontWeight":800,"font":"Open Sans","color":"#a0a0a0","opacity":0.2},
 "encoding":{"x":{"field":"i","type":"quantitative","scale":{"domain":[-0.5,404],"nice":false,"zero":false},"axis":null},
 "y":{"field":"p","type":"quantitative","scale":{"domain":[3857.4,4553.6],"nice":false,"zero":false},"axis":null},"text":{"value":"WikiFX"}}},
{"data":{"name":"tags"},"mark":{"type":"rect"},
 "encoding":{"x":{"field":"i1","type":"quantitative","scale":{"domain":[-0.5,404],"nice":false,"zero":false},"axis":null},"x2":{"field":"i2"},
 "y":{"field":"p1","type":"quantitative","scale":{"domain":[3857.4,4553.6],"nice":false,"zero":false},"axis":null},"y2":{"field":"p2"},
 "color":{"condition":{"test":"datum.s=='r'","value":"#e2475a"},"value":"#131313"}}},
{"data":{"name":"tags"},"mark":{"type":"text","align":"center","baseline":"middle","fontSize":10,"color":"#ffffff","font":"Roboto"},
 "encoding":{"x":{"field":"ti","type":"quantitative","scale":{"domain":[-0.5,404],"nice":false,"zero":false},"axis":null},
 "y":{"field":"p","type":"quantitative","scale":{"domain":[3857.4,4553.6],"nice":false,"zero":false},"axis":null},"text":{"field":"t"}}},
{"data":{"values":[{"i":5.05,"p":3872.9,"t":"TradingView"}]},"mark":{"type":"text","align":"left","baseline":"middle","fontSize":15,"fontWeight":600,"font":"Inter","color":"#131722"},
 "encoding":{"x":{"field":"i","type":"quantitative","scale":{"domain":[-0.5,404],"nice":false,"zero":false},"axis":null},
 "y":{"field":"p","type":"quantitative","scale":{"domain":[3857.4,4553.6],"nice":false,"zero":false},"axis":null},"text":{"field":"t"}}}
]
}
